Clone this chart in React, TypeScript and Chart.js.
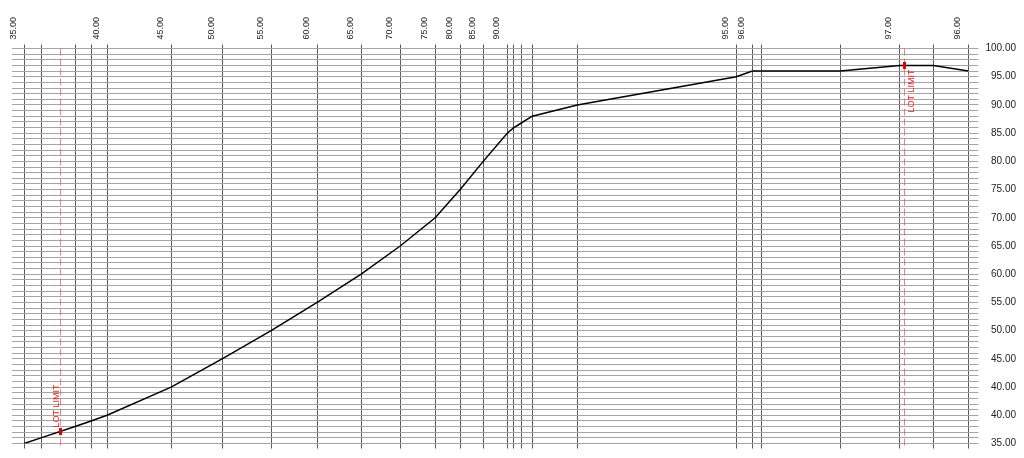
import React, { useEffect, useRef } from "react";
import { Chart, registerables } from "chart.js";

Chart.register(...registerables);

// Distance along the profile (arbitrary units) for every station / vertical line
const stationX: number[] = [
  0, 4.25, 12.75, 16.75, 20.75, 36.75, 49.5, 61.75, 73.25, 84.25, 94, 102.75,
  109, 114.75, 120.75, 122.25, 124.25, 127, 138.25, 178, 182, 184.25, 204,
  218.75, 227.25, 236,
];

// Profile value at each station (on the plotted vertical scale)
const profileY: number[] = [
  30, 31, 33, 34, 35, 40, 45, 50, 55, 60, 65, 70, 75, 80, 85, 85.9, 86.8, 88,
  90, 95, 96, 96, 96, 97, 97, 96,
];

// Labels printed above the stations
const stationLabels: string[] = [
  "35.00", "", "", "", "40.00", "45.00", "50.00", "55.00", "60.00", "65.00",
  "70.00", "75.00", "80.00", "85.00", "90.00", "", "", "", "", "95.00",
  "96.00", "", "", "97.00", "", "96.00",
];

// Right-hand axis: labelled tick values and their printed text
const yTickValues: number[] = [30, 35, 40, 45, 50, 55, 60, 65, 70, 75, 80, 85, 90, 95, 100];
const yTickLabels: string[] = [
  "35.00", "40.00", "40.00", "45.00", "50.00", "55.00", "60.00", "65.00",
  "70.00", "75.00", "80.00", "85.00", "90.00", "95.00", "100.00",
];

// Lot limits (distance positions)
const lotLimitX: number[] = [9, 220];
const lotLimitText = "LOT LIMIT";

const FONT = "'Liberation Sans', Arial, sans-serif";

function interpY(x: number): number {
  for (let i = 0; i < stationX.length - 1; i++) {
    const a = stationX[i];
    const b = stationX[i + 1];
    if (x >= a && x <= b) {
      const t = (x - a) / (b - a);
      return profileY[i] + t * (profileY[i + 1] - profileY[i]);
    }
  }
  return profileY[profileY.length - 1];
}

const lotLimitPlugin = {
  id: "lotLimit",
  afterDatasetsDraw(chart: any) {
    const { ctx, chartArea, scales } = chart;
    const xs = scales.x;
    const ys = scales.y;
    lotLimitX.forEach((lx, i) => {
      const px = Math.round(xs.getPixelForValue(lx)) + 0.5;
      const py = ys.getPixelForValue(interpY(lx));
      ctx.save();
      ctx.strokeStyle = "rgba(235,80,80,0.7)";
      ctx.lineWidth = 1;
      ctx.setLineDash([7, 3]);
      ctx.beginPath();
      ctx.moveTo(px, chartArea.top);
      ctx.lineTo(px, chartArea.bottom + 4);
      ctx.stroke();
      ctx.setLineDash([]);
      ctx.fillStyle = "#e00000";
      ctx.fillRect(px - 1.5, py - 3.5, 3, 7);
      ctx.font = `9px ${FONT}`;
      ctx.fillStyle = "#e02020";
      if (i === 0) {
        ctx.translate(px - 2, py - 4);
        ctx.rotate(-Math.PI / 2);
        ctx.textAlign = "left";
        ctx.textBaseline = "alphabetic";
        ctx.fillText(lotLimitText, 0, 0);
      } else {
        ctx.translate(px + 9, py + 4);
        ctx.rotate(-Math.PI / 2);
        ctx.textAlign = "right";
        ctx.textBaseline = "alphabetic";
        ctx.fillText(lotLimitText, 0, 0);
      }
      ctx.restore();
    });
  },
};

export default function App() {
  const ref = useRef<HTMLCanvasElement | null>(null);

  useEffect(() => {
    if (!ref.current) return;
    const setStationTicks = (axis: any) => {
      axis.ticks = stationX.map((v) => ({ value: v }));
    };
    const chart = new Chart(ref.current, {
      type: "line",
      data: {
        datasets: [
          {
            data: stationX.map((x, i) => ({ x, y: profileY[i] })),
            borderColor: "#000000",
            borderWidth: 1.5,
            pointRadius: 0,
            tension: 0,
            fill: false,
            xAxisID: "x",
            yAxisID: "y",
          },
        ],
      },
      options: {
        animation: false,
        responsive: true,
        maintainAspectRatio: false,
        layout: { padding: { left: 4, top: 4, right: 0, bottom: 2 } },
        plugins: { legend: { display: false }, tooltip: { enabled: false } },
        scales: {
          x: {
            type: "linear",
            position: "top",
            min: -3,
            max: 236,
            afterBuildTicks: setStationTicks,
            border: { display: false },
            grid: { color: "#5a5a5a", lineWidth: 1, tickLength: 4 },
            ticks: {
              autoSkip: false,
              minRotation: 90,
              maxRotation: 90,
              padding: 5,
              color: "#222",
              font: { family: FONT, size: 9 },
              callback: (_v: any, index: number) => stationLabels[index] ?? "",
            },
          },
          x2: {
            type: "linear",
            position: "bottom",
            min: -3,
            max: 236,
            afterBuildTicks: setStationTicks,
            border: { display: false },
            grid: { color: "#5a5a5a", lineWidth: 1, tickLength: 5, drawOnChartArea: false },
            ticks: { display: false },
          },
          y: {
            type: "linear",
            position: "right",
            min: 30,
            max: 100,
            border: { display: false },
            grid: { color: "#a5a5a5", lineWidth: 1, tickLength: 10 },
            ticks: {
              stepSize: 1,
              autoSkip: false,
              padding: 3.5,
              crossAlign: "far",
              color: "#222",
              font: { family: FONT, size: 10 },
              callback: (value: any) => {
                const idx = yTickValues.indexOf(Number(value));
                return idx >= 0 ? yTickLabels[idx] : "";
              },
            },
          },
        },
      },
      plugins: [lotLimitPlugin],
    });
    return () => chart.destroy();
  }, []);

  return (
    <div style={{ position: "relative", height: "445px" }}>
      <canvas ref={ref} />
    </div>
  );
}
